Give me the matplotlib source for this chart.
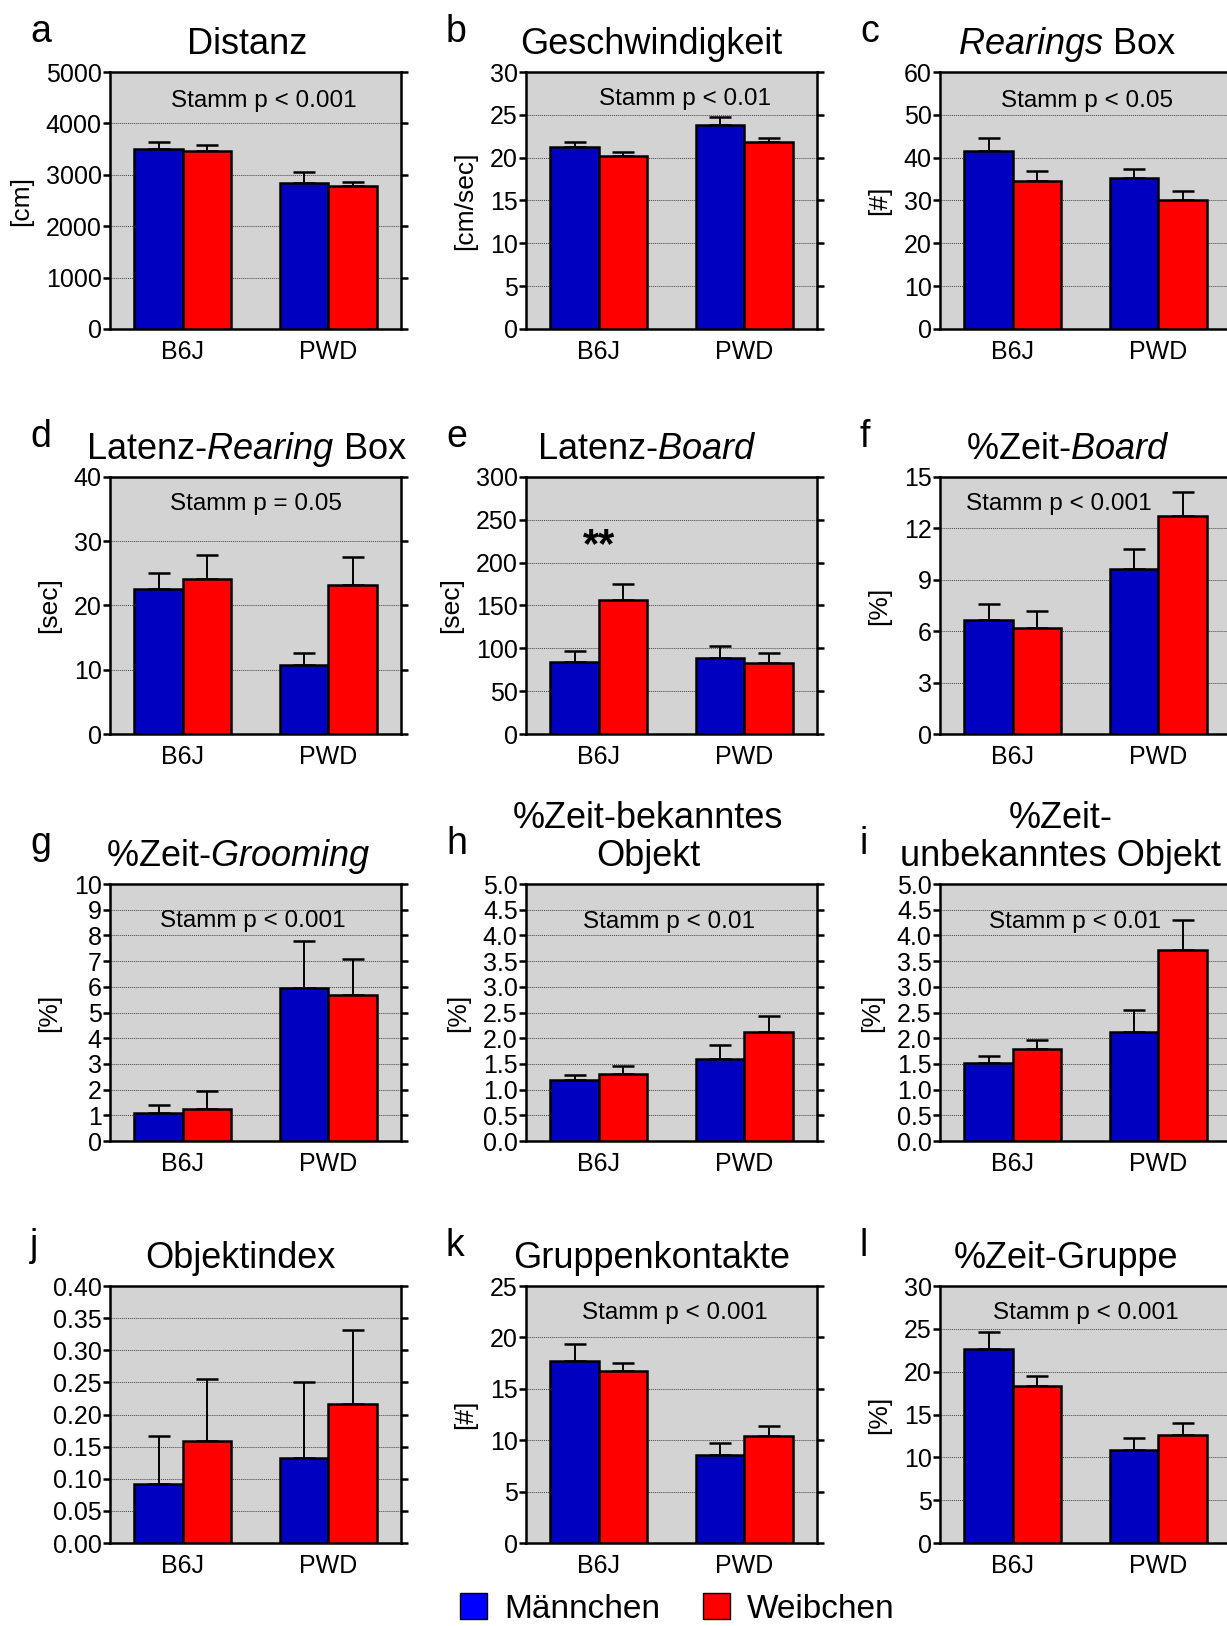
import numpy as np
import matplotlib
matplotlib.use("Agg")
import matplotlib.pyplot as plt
from matplotlib.patches import Patch
from matplotlib.ticker import FormatStrFormatter

# ── Data (means and upper SEM, order: B6J, PWD) ───────────────
groups = ["B6J", "PWD"]

distanz_m, distanz_m_err = [3500, 2840], [130, 205]
distanz_w, distanz_w_err = [3470, 2790], [115, 65]

speed_m, speed_m_err = [21.3, 23.8], [0.5, 0.9]
speed_w, speed_w_err = [20.2, 21.8], [0.5, 0.5]

rear_m, rear_m_err = [41.5, 35.2], [3.1, 2.2]
rear_w, rear_w_err = [34.6, 30.0], [2.3, 2.2]

lat_rear_m, lat_rear_m_err = [22.5, 10.8], [2.5, 1.8]
lat_rear_w, lat_rear_w_err = [24.2, 23.2], [3.7, 4.3]

lat_board_m, lat_board_m_err = [84, 89], [13, 14]
lat_board_w, lat_board_w_err = [156, 83], [19, 11]

board_m, board_m_err = [6.63, 9.64], [0.97, 1.13]
board_w, board_w_err = [6.2, 12.7], [0.98, 1.4]

groom_m, groom_m_err = [1.10, 5.95], [0.29, 1.85]
groom_w, groom_w_err = [1.23, 5.70], [0.72, 1.38]

known_m, known_m_err = [1.18, 1.60], [0.11, 0.27]
known_w, known_w_err = [1.30, 2.13], [0.15, 0.30]

novel_m, novel_m_err = [1.51, 2.13], [0.15, 0.42]
novel_w, novel_w_err = [1.79, 3.72], [0.18, 0.58]

index_m, index_m_err = [0.092, 0.132], [0.074, 0.118]
index_w, index_w_err = [0.159, 0.217], [0.097, 0.115]

contacts_m, contacts_m_err = [17.7, 8.6], [1.65, 1.1]
contacts_w, contacts_w_err = [16.7, 10.4], [0.8, 1.0]

group_m, group_m_err = [22.7, 10.8], [1.9, 1.5]
group_w, group_w_err = [18.3, 12.65], [1.2, 1.35]

# ── Style ─────────────────────────────────────────────────────
BLUE = "#0000C0"
RED = "#FF0000"
BG = "#D3D3D3"

plt.rcParams.update({
    "font.family": ["Liberation Sans", "DejaVu Sans"],
    "mathtext.fontset": "custom",
    "mathtext.rm": "Liberation Sans",
    "mathtext.it": "Liberation Sans:italic",
    "mathtext.bf": "Liberation Sans:bold",
    "axes.linewidth": 1.8,
})

W, H = 1227, 1626
fig = plt.figure(figsize=(W / 100, H / 100), dpi=100)

col_left = [110, 526, 940]
row_top = [72, 477, 884, 1286]
AX_W, AX_H = 291, 257

panels = [
    # (letter, title, title_x, ylabel, ymax, step, fmt, data, stamm, stamm_xy)
    ("a", "Distanz", 0.47, "[cm]", 5000, 1000, "%d",
     (distanz_m, distanz_m_err, distanz_w, distanz_w_err), "Stamm p < 0.001", (0.53, 0.864)),
    ("b", "Geschwindigkeit", 0.43, "[cm/sec]", 30, 5, "%d",
     (speed_m, speed_m_err, speed_w, speed_w_err), "Stamm p < 0.01", (0.546, 0.872)),
    ("c", r"$\mathit{Rearings}$ Box", 0.436, "[#]", 60, 10, "%d",
     (rear_m, rear_m_err, rear_w, rear_w_err), "Stamm p < 0.05", (0.505, 0.864)),
    ("d", r"Latenz-$\mathit{Rearing}$ Box", 0.47, "[sec]", 40, 10, "%d",
     (lat_rear_m, lat_rear_m_err, lat_rear_w, lat_rear_w_err), "Stamm p = 0.05", (0.50, 0.87)),
    ("e", r"Latenz-$\mathit{Board}$", 0.416, "[sec]", 300, 50, "%d",
     (lat_board_m, lat_board_m_err, lat_board_w, lat_board_w_err), None, None),
    ("f", r"%Zeit-$\mathit{Board}$", 0.44, "[%]", 15, 3, "%d",
     (board_m, board_m_err, board_w, board_w_err), "Stamm p < 0.001", (0.41, 0.87)),
    ("g", r"%Zeit-$\mathit{Grooming}$", 0.44, "[%]", 10, 1, "%d",
     (groom_m, groom_m_err, groom_w, groom_w_err), "Stamm p < 0.001", (0.49, 0.833)),
    ("h", "%Zeit-bekanntes\nObjekt", 0.42, "[%]", 5, 0.5, "%.1f",
     (known_m, known_m_err, known_w, known_w_err), "Stamm p < 0.01", (0.49, 0.83)),
    ("i", "%Zeit-\nunbekanntes Objekt", 0.415, "[%]", 5, 0.5, "%.1f",
     (novel_m, novel_m_err, novel_w, novel_w_err), "Stamm p < 0.01", (0.465, 0.83)),
    ("j", "Objektindex", 0.447, "", 0.40, 0.05, "%.2f",
     (index_m, index_m_err, index_w, index_w_err), None, None),
    ("k", "Gruppenkontakte", 0.43, "[#]", 25, 5, "%d",
     (contacts_m, contacts_m_err, contacts_w, contacts_w_err), "Stamm p < 0.001", (0.51, 0.87)),
    ("l", "%Zeit-Gruppe", 0.433, "[%]", 30, 5, "%d",
     (group_m, group_m_err, group_w, group_w_err), "Stamm p < 0.001", (0.50, 0.87)),
]

x = np.arange(len(groups))
bw = 1 / 3

for idx, (letter, title, tx, ylabel, ymax, step, fmt, data, stamm, sxy) in enumerate(panels):
    r, c = divmod(idx, 3)
    left, top = col_left[c], row_top[r]
    ax = fig.add_axes([left / W, 1 - (top + AX_H) / H, AX_W / W, AX_H / H])
    ax.set_facecolor(BG)
    ax.set_axisbelow(True)

    m, m_err, w, w_err = data
    for xs, vals, errs, col in [(x - bw / 2, m, m_err, BLUE), (x + bw / 2, w, w_err, RED)]:
        ax.bar(xs, vals, width=bw, color=col, edgecolor="black", linewidth=1.8, zorder=3)
        ax.errorbar(xs, vals, yerr=[np.zeros(len(vals)), errs], fmt="none",
                    ecolor="black", elinewidth=1.4, capsize=8, capthick=1.8, zorder=2)

    ax.set_xlim(-0.5, 1.5)
    ax.set_ylim(0, ymax)
    ticks = np.arange(0, ymax + step / 2, step)
    ax.set_yticks(ticks)
    ax.yaxis.set_major_formatter(FormatStrFormatter(fmt))
    ax.set_xticks(x)
    ax.set_xticklabels(groups)
    ax.tick_params(axis="x", length=0, pad=8, labelsize=18)
    ax.tick_params(axis="y", which="major", direction="out", length=5, width=1.8,
                   pad=1, labelsize=18, right=True)
    ax.yaxis.grid(True, linestyle=(0, (1, 1)), color="#444444", linewidth=0.7)

    if ylabel:
        ax.set_ylabel(ylabel, fontsize=19, labelpad=9)
    ax.set_title(title, x=tx, pad=13, fontsize=26, linespacing=1.1)

    if stamm:
        ax.text(sxy[0], sxy[1], stamm, transform=ax.transAxes, ha="center",
                va="baseline", fontsize=17.5, zorder=5)

    fig.text((left - 80) / W, 1 - (top - 30) / H, letter, fontsize=27,
             ha="left", va="baseline")

    if letter == "e":
        ax.text(0, 207, "**", ha="center", va="baseline", fontsize=30,
                fontweight="bold", zorder=5)

handles = [Patch(facecolor="#0000FF", edgecolor="black", linewidth=1),
           Patch(facecolor=RED, edgecolor="black", linewidth=1)]
fig.legend(handles, ["Männchen", "Weibchen"], loc="center",
           bbox_to_anchor=(0.552, 0.0105), ncol=2, frameon=False, fontsize=24,
           handlelength=0.8, handleheight=0.8, handletextpad=0.5,
           columnspacing=1.3)

fig.savefig("out.png", dpi=100)
